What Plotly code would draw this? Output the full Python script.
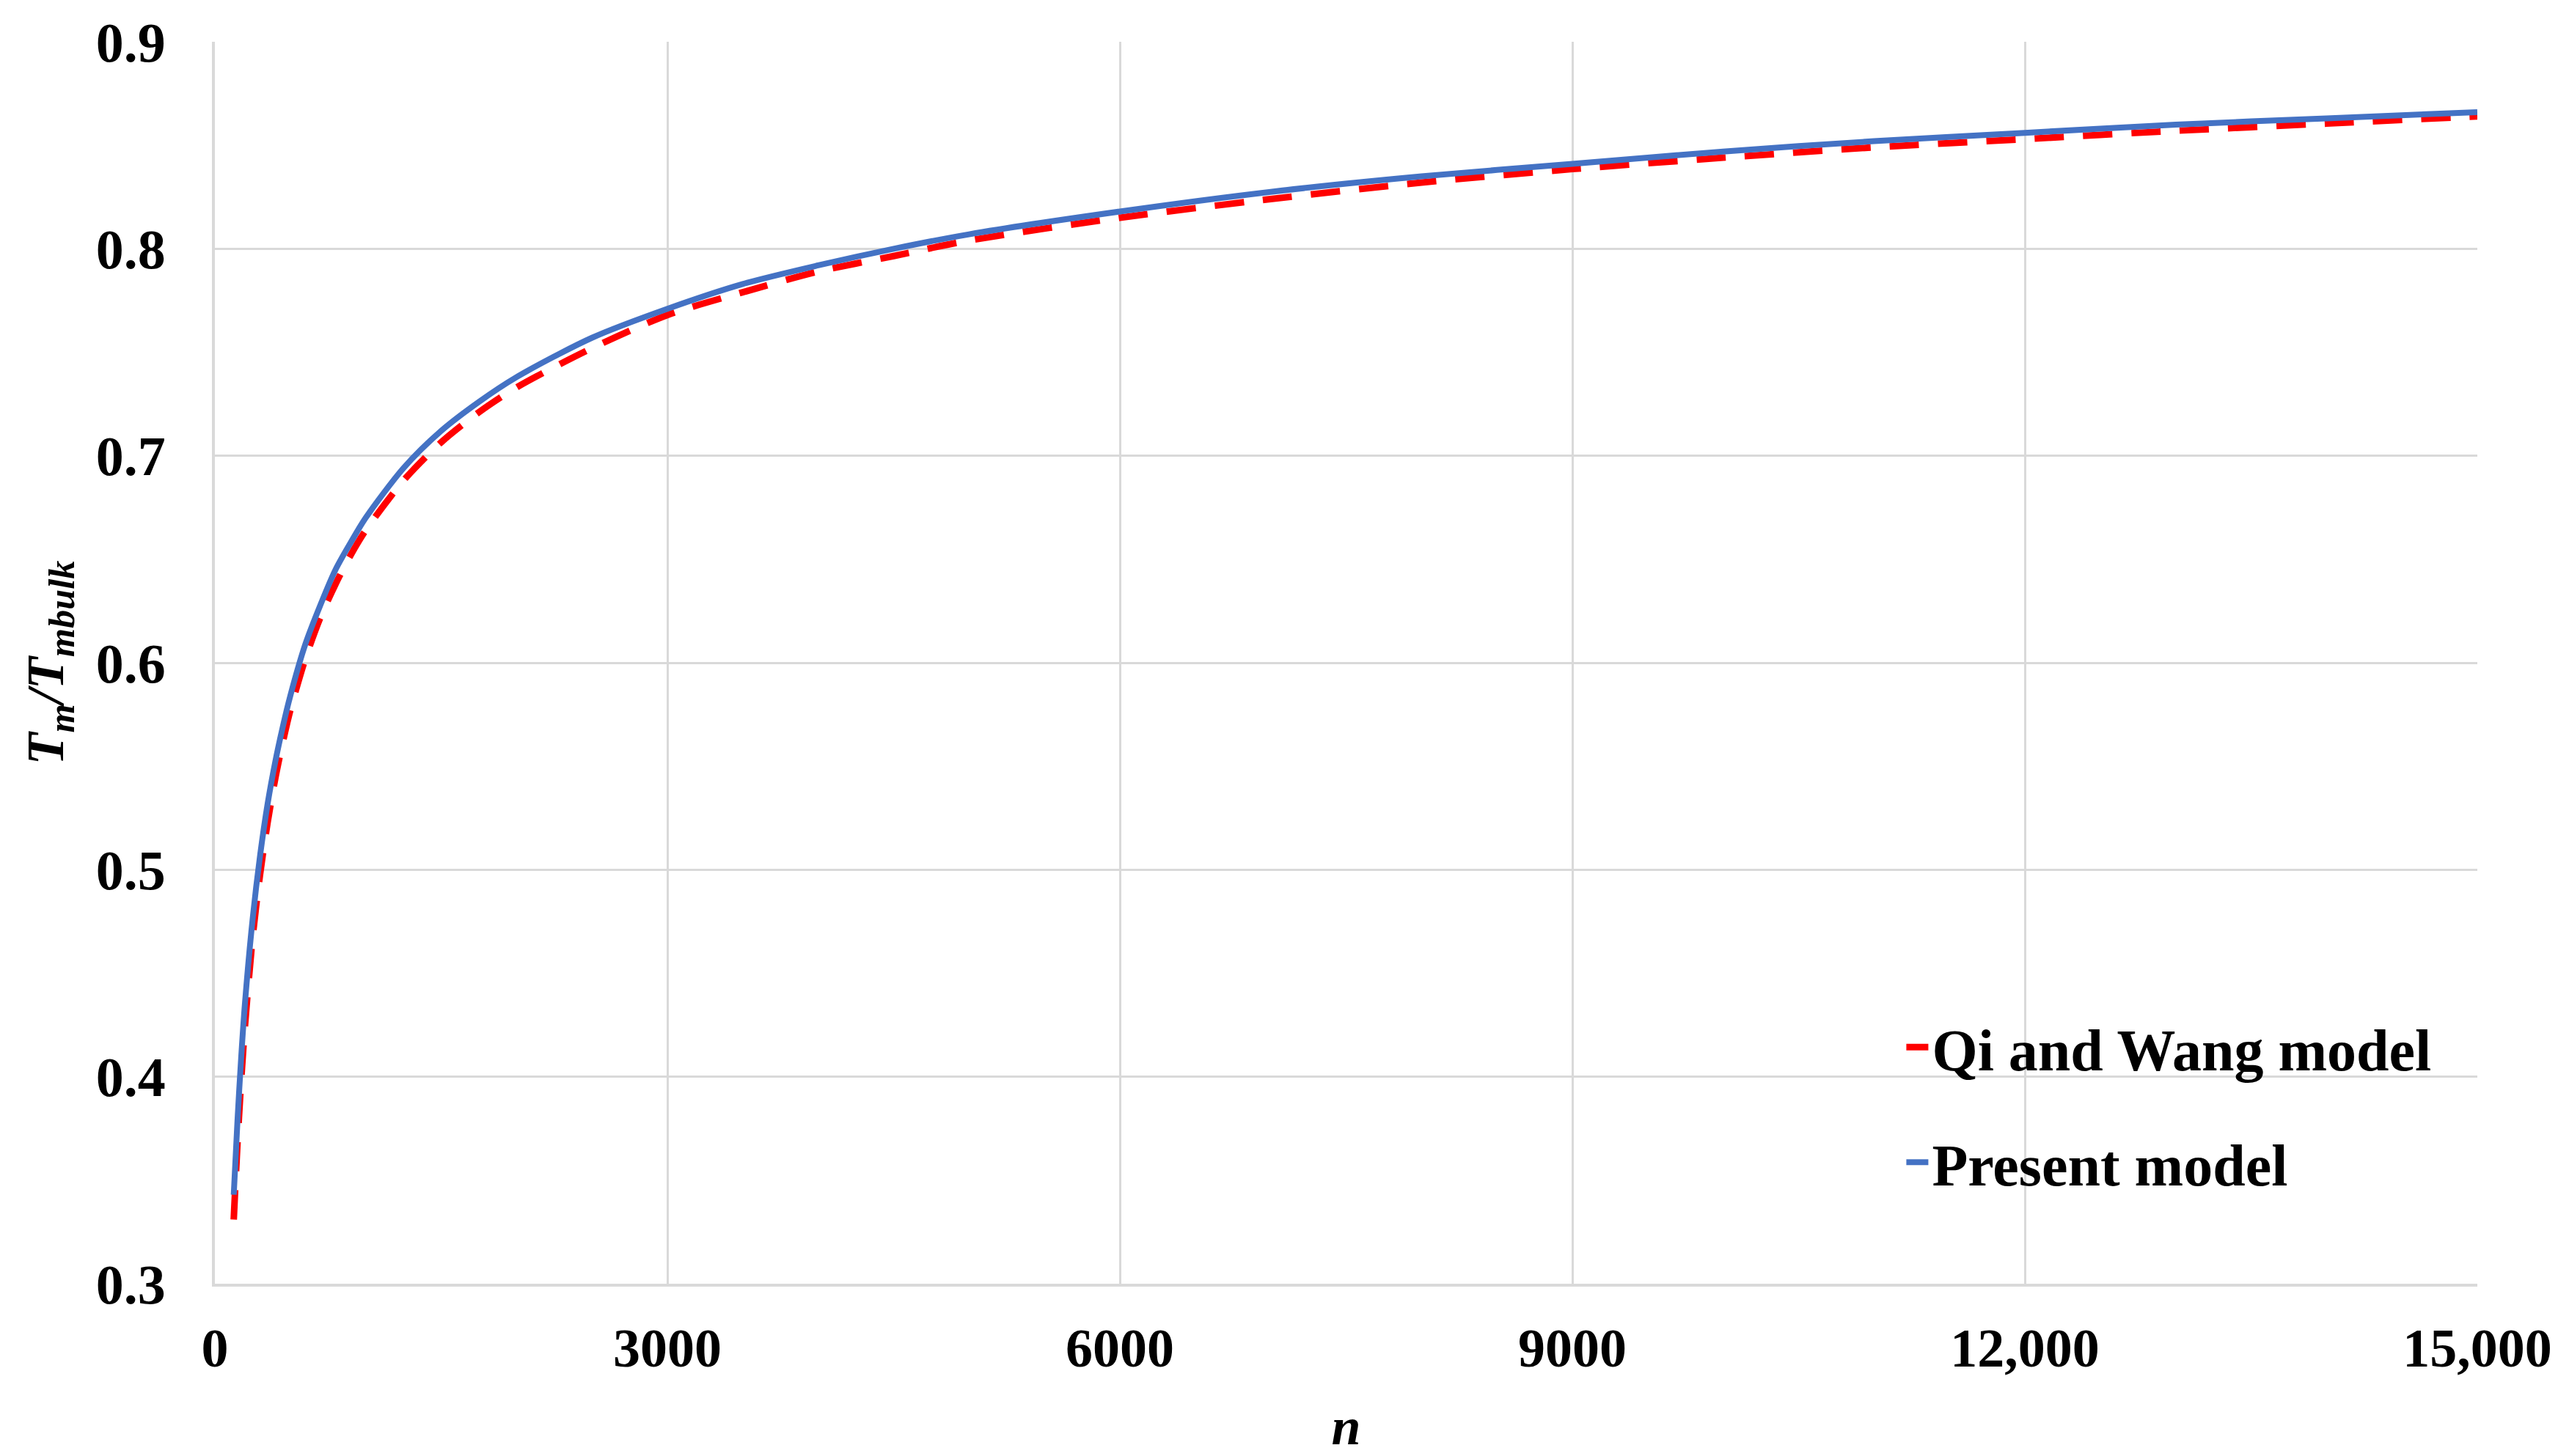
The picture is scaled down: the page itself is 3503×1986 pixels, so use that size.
import plotly.graph_objects as go

# Data
n_values = [125, 150, 175, 200, 250, 300, 350, 400, 450, 500, 600, 700, 800, 900, 1000,
            1250, 1500, 1750, 2000, 2500, 3000, 3500, 4000, 4500, 5000, 6000, 7000, 8000,
            9000, 10000, 11000, 12000, 13000, 14000, 15000]
present_model = [0.343, 0.379, 0.410, 0.436, 0.476, 0.507, 0.532, 0.552, 0.569, 0.584,
                 0.609, 0.628, 0.645, 0.658, 0.670, 0.694, 0.712, 0.726, 0.738, 0.757,
                 0.771, 0.783, 0.792, 0.800, 0.807, 0.818, 0.8275, 0.835, 0.841, 0.847,
                 0.852, 0.856, 0.860, 0.863, 0.866]
qi_wang_model = [0.331, 0.368, 0.399, 0.425, 0.467, 0.498, 0.523, 0.544, 0.5615, 0.577,
                 0.602, 0.622, 0.638, 0.652, 0.664, 0.688, 0.7065, 0.721, 0.733, 0.752,
                 0.768, 0.779, 0.789, 0.7965, 0.804, 0.815, 0.824, 0.832, 0.8385, 0.844,
                 0.849, 0.853, 0.857, 0.8605, 0.864]

x_tick_vals = [0, 3000, 6000, 9000, 12000, 15000]
x_tick_text = ["0", "3000", "6000", "9000", "12,000", "15,000"]
y_tick_vals = [0.3, 0.4, 0.5, 0.6, 0.7, 0.8, 0.9]
y_tick_text = ["0.3", "0.4", "0.5", "0.6", "0.7", "0.8", "0.9"]

FONT = "Liberation Serif"
GRID = "#d9d9d9"

fig = go.Figure()
fig.add_trace(go.Scatter(
    x=n_values, y=qi_wang_model, mode="lines", name="Qi and Wang model",
    line=dict(color="#ff0000", width=9, dash="40px,26px", shape="spline", smoothing=0.8),
    legendgroup="a",
))
fig.add_trace(go.Scatter(
    x=n_values, y=present_model, mode="lines", name="Present model",
    line=dict(color="#4472c4", width=8, shape="spline", smoothing=0.8),
    legendgroup="b",
))

fig.update_layout(
    width=3503, height=1986,
    margin=dict(l=293, r=125, t=57, b=235, autoexpand=False),
    paper_bgcolor="white", plot_bgcolor="white",
    font=dict(family=FONT, color="black"),
    showlegend=True,
    legend=dict(
        x=0.746, y=0.225, xanchor="left", yanchor="top",
        bgcolor="rgba(0,0,0,0)", borderwidth=0,
        font=dict(family=FONT, size=80, color="black", weight="bold"),
        tracegroupgap=50, itemwidth=30,
    ),
)
fig.update_xaxes(
    range=[0, 15000], tickmode="array", tickvals=x_tick_vals, ticktext=x_tick_text,
    showgrid=True, gridcolor=GRID, gridwidth=3,
    showline=True, linecolor=GRID, linewidth=4,
    zeroline=False,
    ticks="outside", ticklen=20, tickcolor="rgba(0,0,0,0)",
    tickfont=dict(family=FONT, size=74, color="black", weight="bold"),
    title=dict(text="<b><i>n</i></b>", font=dict(family=FONT, size=72, color="black"), standoff=45),
    automargin=False,
)
fig.update_yaxes(
    range=[0.3, 0.9], tickmode="array", tickvals=y_tick_vals, ticktext=y_tick_text,
    showgrid=True, gridcolor=GRID, gridwidth=3,
    showline=True, linecolor=GRID, linewidth=4,
    zeroline=False,
    ticks="outside", ticklen=48, tickcolor="rgba(0,0,0,0)",
    tickfont=dict(family=FONT, size=76, color="black", weight="bold"),
    title=dict(text="<b><i>T<sub>m</sub>/T<sub>mbulk</sub></i></b>",
               font=dict(family=FONT, size=72, color="black"), standoff=22),
    automargin=False,
)

fig.write_html("out.html", config={"displayModeBar": False},
               post_script="document.body.style.margin='0';")
